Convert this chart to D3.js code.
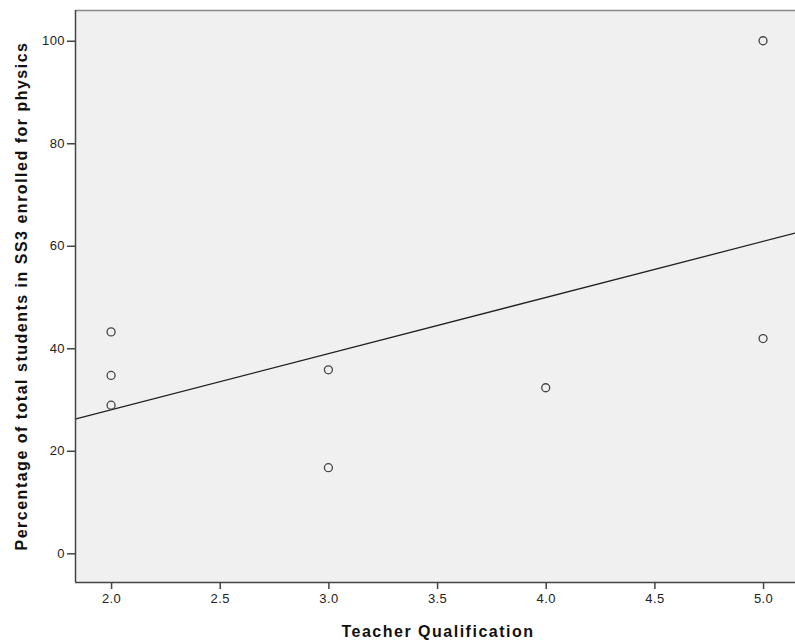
<!DOCTYPE html>
<html><head><meta charset="utf-8">
<script src="https://cdn.jsdelivr.net/npm/d3@7/dist/d3.min.js"></script>
<style>body{margin:0;background:#fff}svg{display:block}</style>
</head><body>
<svg id="c" width="795" height="643"></svg>
<script>
const qualification = [2, 2, 2, 3, 3, 4, 5, 5];
const percentEnrolled = [43.2, 34.7, 28.9, 35.8, 16.7, 32.3, 41.9, 100];
const xTicks = [2.0, 2.5, 3.0, 3.5, 4.0, 4.5, 5.0];
const yTicks = [0, 20, 40, 60, 80, 100];
const xTitle = "Teacher Qualification";
const yTitle = "Percentage of total students in SS3 enrolled for physics";

const svg = d3.select("#c");
const L = 75, R = 795, T = 10, B = 582;
const x = d3.scaleLinear().domain([1.834, 5.147]).range([L, R]);
const y = d3.scaleLinear().domain([-5.6, 106]).range([B, T]);

svg.append("rect").attr("x", L).attr("y", T).attr("width", R - L).attr("height", B - T).attr("fill", "#f0f0f0");
svg.append("line").attr("x1", L).attr("x2", R).attr("y1", T + 0.5).attr("y2", T + 0.5).attr("stroke", "#888").attr("stroke-width", 1.5);

// regression line
const mx = d3.mean(qualification), my = d3.mean(percentEnrolled);
let sxy = 0, sxx = 0;
qualification.forEach((q, i) => { sxy += (q - mx) * (percentEnrolled[i] - my); sxx += (q - mx) ** 2; });
const slope = sxy / sxx, icpt = my - slope * mx;
const [d0, d1] = x.domain();
svg.append("line").attr("x1", x(d0)).attr("x2", x(d1))
  .attr("y1", y(icpt + slope * d0)).attr("y2", y(icpt + slope * d1))
  .attr("stroke", "#222").attr("stroke-width", 1.3);

svg.append("g").selectAll("circle").data(qualification).join("circle")
  .attr("cx", d => x(d)).attr("cy", (d, i) => y(percentEnrolled[i])).attr("r", 4)
  .attr("fill", "none").attr("stroke", "#444").attr("stroke-width", 1.3);

const xAxis = svg.append("g").attr("transform", `translate(0,${B})`)
  .call(d3.axisBottom(x).tickValues(xTicks).tickFormat(d3.format(".1f")).tickSizeInner(7).tickSizeOuter(0).tickPadding(5));
const yAxis = svg.append("g").attr("transform", `translate(${L},0)`)
  .call(d3.axisLeft(y).tickValues(yTicks).tickSizeInner(8).tickSizeOuter(0).tickPadding(2));
[xAxis, yAxis].forEach(a => {
  a.select(".domain").attr("stroke", "#444").attr("stroke-width", 1.5);
  a.selectAll(".tick line").attr("stroke", "#444").attr("stroke-width", 1.5);
  a.selectAll("text").attr("font-family", "Liberation Sans, Arial, sans-serif").attr("font-size", 13)
    .attr("letter-spacing", "0.4px").attr("fill", "#222");
});
xAxis.select(".domain").attr("d", `M${L},0.5H${R}`);
yAxis.select(".domain").attr("d", `M0.5,${T}V${B}`);

svg.append("text").attr("x", (L + R) / 2 + 3).attr("y", 637).attr("text-anchor", "middle")
  .attr("font-family", "Liberation Sans, Arial, sans-serif").attr("font-weight", "bold").attr("font-size", 16)
  .attr("letter-spacing", "1.5px").attr("fill", "#111").text(xTitle);
svg.append("text").attr("transform", `translate(27,${(T + B) / 2}) rotate(-90)`).attr("text-anchor", "middle")
  .attr("font-family", "Liberation Sans, Arial, sans-serif").attr("font-weight", "bold").attr("font-size", 16)
  .attr("letter-spacing", "1.5px").attr("fill", "#111").text(yTitle);
</script>
</body></html>
